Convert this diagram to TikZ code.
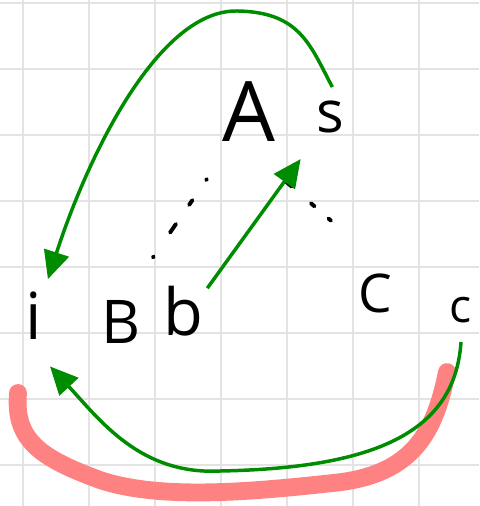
\documentclass[tikz,border=0pt]{standalone}
\usepackage{fontspec}
\setmainfont{Open Sans}
\usetikzlibrary{arrows.meta}
\definecolor{penGreen}{RGB}{0,140,0}
\definecolor{markerRed}{RGB}{255,130,130}

\begin{document}
\begin{tikzpicture}[
    x=0.015152cm, y=-0.015152cm,
    gridline/.style={draw=gray!22, line width=0.9pt},
    letter/.style={anchor=base, inner sep=0pt, font=\fontsize{26}{30}\selectfont},
    arrow/.style={-{Triangle[length=12pt,width=11pt]}, draw=penGreen, line width=1.5pt},
    dotline/.style={line width=1.7pt, line cap=round},
    highlight/.style={draw=markerRed, line width=0.27cm, line cap=round}
  ]
    \useasboundingbox (0,0) rectangle (479,506);
    % squared paper
    \foreach \gx in {23,89,...,419} \draw[gridline] (\gx,0) -- (\gx,506);
    \foreach \gy in {3,69,...,465} \draw[gridline] (0,\gy) -- (479,\gy);

    \node[letter, font=\fontsize{36}{40}\selectfont] (A) at (249,142) {A};
    \node[letter, font=\fontsize{25}{30}\selectfont] (s) at (330,133) {s};
    \node[letter, font=\fontsize{28}{30}\selectfont] (i) at (34,340) {i};
    \node[letter] (B) at (121,343) {B};
    \node[letter, font=\fontsize{28}{30}\selectfont] (b) at (183,335) {b};
    \node[letter, font=\fontsize{23}{30}\selectfont] (C) at (375,313) {C};
    \node[letter, font=\fontsize{20}{24}\selectfont] (c) at (461,323) {c};

    % marker stroke under the lower arrow
    \draw[highlight] (18,393) .. controls (14,440) and (40,458) .. (100,480)
      .. controls (160,500) and (250,492) .. (333,483)
      .. controls (415,475) and (435,430) .. (447,372);

    \draw[dotline, dash pattern=on 0.5pt off 12.5pt on 4.5pt off 10pt on 2.5pt off 10.5pt on 0.5pt off 40pt,
      shorten <=22pt, shorten >=17pt] ([xshift=1.3pt]B.north) -- ([xshift=4.3pt]A.south west);
    \draw[dotline, dash pattern=on 3pt off 11pt on 2pt off 8pt on 3pt off 40pt,
      shorten <=26pt, shorten >=35pt] ([xshift=-3.5pt]A.south) -- (C.north east);

    \draw[arrow] ([xshift=1pt,yshift=6pt]s.north) .. controls (310,45) and (300,12) .. (237,11)
      .. controls (160,10) and (90,150) .. ([xshift=6pt,yshift=5.5pt]i.north);
    \draw[arrow] ([xshift=1.7pt,yshift=-1.3pt]b.north east) -- ([xshift=-6.5pt,yshift=-10.8pt]s.south west);
    \draw[arrow] ([yshift=-7.8pt]c.south) .. controls (455,430) and (380,468) .. (220,471)
      .. controls (140,475) and (100,420) .. ([xshift=6.9pt,yshift=-11.2pt]i.south);
\end{tikzpicture}
\end{document}
